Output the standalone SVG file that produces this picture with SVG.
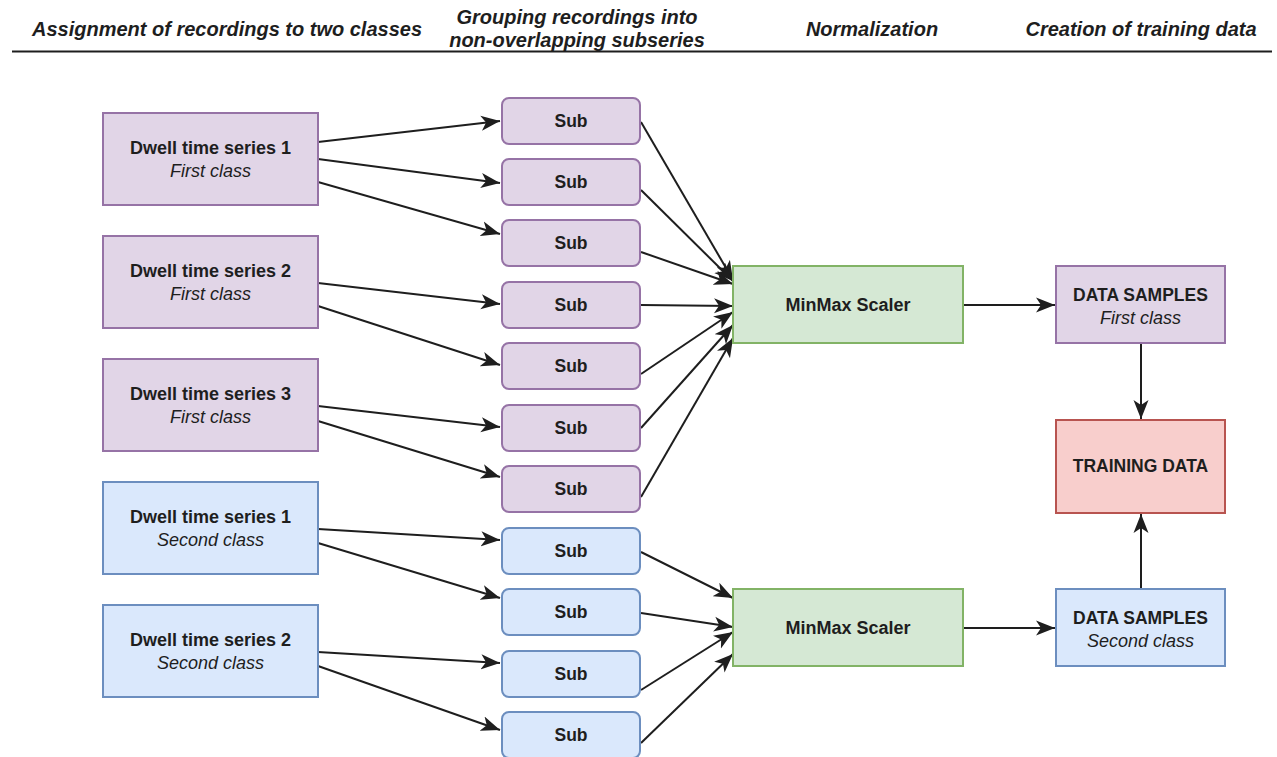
<svg xmlns="http://www.w3.org/2000/svg" width="1277" height="757" viewBox="0 0 1277 757">
<style>
text{font-family:"Liberation Sans",Arial,sans-serif;fill:#1e1e1e;text-anchor:middle}
.h{font-size:20px;font-weight:bold;font-style:italic}
.b{font-size:18px;font-weight:bold}
.i{font-size:18px;font-style:italic}
.s{font-size:17.5px;font-weight:bold}
.p{fill:#e1d5e7;stroke:#9673a6;stroke-width:2}
.bl{fill:#dae8fc;stroke:#6c8ebf;stroke-width:2}
.g{fill:#d5e8d4;stroke:#82b366;stroke-width:2}
.r{fill:#f8cecc;stroke:#b85450;stroke-width:2}
.c line{stroke:#1e1e1e;stroke-width:2;marker-end:url(#a)}
</style>
<defs>
<marker id="a" markerUnits="userSpaceOnUse" markerWidth="20" markerHeight="16" viewBox="0 0 20 16" refX="19" refY="8" orient="auto">
<path d="M0,0.5 L19,8 L0,15.5 L5,8 z" fill="#1e1e1e"/>
</marker>
</defs>
<rect width="1277" height="757" fill="#ffffff"/>
<g id="header">
<text class="h" x="227" y="36">Assignment of recordings to two classes</text>
<text class="h" x="577" y="24">Grouping recordings into</text>
<text class="h" x="577" y="47">non-overlapping subseries</text>
<text class="h" x="872" y="36">Normalization</text>
<text class="h" x="1141" y="36">Creation of training data</text>
<line x1="12" y1="51.5" x2="1272" y2="51.5" stroke="#1e1e1e" stroke-width="1.8"/>
</g>
<g class="c" id="connectors">
<line x1="318" y1="142" x2="500" y2="121"/>
<line x1="318" y1="159" x2="500" y2="183"/>
<line x1="318" y1="182" x2="500" y2="234"/>
<line x1="318" y1="283" x2="500" y2="304"/>
<line x1="318" y1="306" x2="500" y2="365"/>
<line x1="318" y1="406" x2="500" y2="427"/>
<line x1="318" y1="421" x2="500" y2="477"/>
<line x1="318" y1="529" x2="500" y2="540"/>
<line x1="318" y1="543" x2="500" y2="598"/>
<line x1="318" y1="652" x2="500" y2="663"/>
<line x1="318" y1="666" x2="500" y2="730"/>
<line x1="641" y1="122" x2="733" y2="280"/>
<line x1="641" y1="190" x2="733" y2="281"/>
<line x1="641" y1="252" x2="733" y2="284"/>
<line x1="641" y1="305" x2="733" y2="306"/>
<line x1="641" y1="374" x2="733" y2="312"/>
<line x1="641" y1="428" x2="733" y2="325"/>
<line x1="641" y1="497" x2="733" y2="338"/>
<line x1="641" y1="552" x2="733" y2="598"/>
<line x1="641" y1="613" x2="733" y2="627"/>
<line x1="641" y1="690" x2="733" y2="632"/>
<line x1="641" y1="743" x2="733" y2="654"/>
<line x1="964" y1="305" x2="1055" y2="305"/>
<line x1="964" y1="628" x2="1055" y2="628"/>
<line x1="1141" y1="344" x2="1141" y2="419"/>
<line x1="1141" y1="589" x2="1141" y2="514"/>
</g>
<g id="series1"><rect class="p" x="103" y="113" width="215" height="92"/><text class="b" x="210.5" y="154">Dwell time series 1</text><text class="i" x="210.5" y="177">First class</text></g>
<g id="series2"><rect class="p" x="103" y="236" width="215" height="92"/><text class="b" x="210.5" y="277">Dwell time series 2</text><text class="i" x="210.5" y="300">First class</text></g>
<g id="series3"><rect class="p" x="103" y="359" width="215" height="92"/><text class="b" x="210.5" y="400">Dwell time series 3</text><text class="i" x="210.5" y="423">First class</text></g>
<g id="series4"><rect class="bl" x="103" y="482" width="215" height="92"/><text class="b" x="210.5" y="523">Dwell time series 1</text><text class="i" x="210.5" y="546">Second class</text></g>
<g id="series5"><rect class="bl" x="103" y="605" width="215" height="92"/><text class="b" x="210.5" y="646">Dwell time series 2</text><text class="i" x="210.5" y="669">Second class</text></g>
<g id="sub1"><rect class="p" x="502" y="98" width="138" height="46" rx="7"/><text class="s" x="571" y="127">Sub</text></g>
<g id="sub2"><rect class="p" x="502" y="159" width="138" height="46" rx="7"/><text class="s" x="571" y="188">Sub</text></g>
<g id="sub3"><rect class="p" x="502" y="220" width="138" height="46" rx="7"/><text class="s" x="571" y="249">Sub</text></g>
<g id="sub4"><rect class="p" x="502" y="282" width="138" height="46" rx="7"/><text class="s" x="571" y="311">Sub</text></g>
<g id="sub5"><rect class="p" x="502" y="343" width="138" height="46" rx="7"/><text class="s" x="571" y="372">Sub</text></g>
<g id="sub6"><rect class="p" x="502" y="405" width="138" height="46" rx="7"/><text class="s" x="571" y="434">Sub</text></g>
<g id="sub7"><rect class="p" x="502" y="466" width="138" height="46" rx="7"/><text class="s" x="571" y="495">Sub</text></g>
<g id="sub8"><rect class="bl" x="502" y="528" width="138" height="46" rx="7"/><text class="s" x="571" y="557">Sub</text></g>
<g id="sub9"><rect class="bl" x="502" y="589" width="138" height="46" rx="7"/><text class="s" x="571" y="618">Sub</text></g>
<g id="sub10"><rect class="bl" x="502" y="651" width="138" height="46" rx="7"/><text class="s" x="571" y="680">Sub</text></g>
<g id="sub11"><rect class="bl" x="502" y="712" width="138" height="46" rx="7"/><text class="s" x="571" y="741">Sub</text></g>
<g id="minmax1"><rect class="g" x="733" y="266" width="230" height="77"/><text class="b" x="848" y="311">MinMax Scaler</text></g>
<g id="minmax2"><rect class="g" x="733" y="589" width="230" height="77"/><text class="b" x="848" y="634">MinMax Scaler</text></g>
<g id="samples1"><rect class="p" x="1056" y="266" width="169" height="77"/><text class="s" x="1140.5" y="301">DATA SAMPLES</text><text class="i" x="1140.5" y="324">First class</text></g>
<g id="training"><rect class="r" x="1056" y="420" width="169" height="93"/><text class="s" x="1140.5" y="472">TRAINING DATA</text></g>
<g id="samples2"><rect class="bl" x="1056" y="589" width="169" height="77"/><text class="s" x="1140.5" y="624">DATA SAMPLES</text><text class="i" x="1140.5" y="647">Second class</text></g>
</svg>
